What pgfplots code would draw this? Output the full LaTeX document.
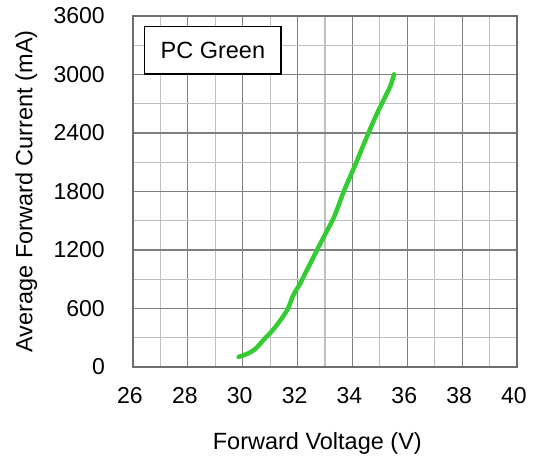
\documentclass[border=0pt]{standalone}
\usepackage{fontspec}
\setmainfont{Liberation Sans}
\usepackage{pgfplots}
\pgfplotsset{compat=1.18}

\definecolor{curvegreen}{HTML}{33CC33}
\definecolor{majorgrid}{HTML}{7F7F7F}
\definecolor{minorgrid}{HTML}{C0C0C0}
\definecolor{frame}{HTML}{6E6E6E}

% Forward voltage (V) vs average forward current (mA)
\pgfplotstableread{
V      I
29.85  103
30.20  140
30.47  188
30.80  290
31.09  376
31.40  490
31.65  598
31.84  735
32.09  855
32.46  1060
32.89  1299
33.33  1538
33.70  1812
34.07  2051
34.45  2310
34.83  2560
35.15  2745
35.38  2880
35.52  3002
}\ivcurve

\begin{document}
\begin{tikzpicture}
\begin{axis}[
  name=main,
  at={(0,0)}, anchor=south west,
  scale only axis,
  width=384pt, height=351pt,
  xmin=26, xmax=40, ymin=0, ymax=3600,
  xtick={26,28,...,40},
  ytick={0,600,...,3600},
  minor xtick={27,29,...,39},
  minor ytick={300,900,...,3300},
  grid=both,
  major grid style={draw=majorgrid, line width=1.1pt},
  minor grid style={draw=minorgrid, line width=1.1pt},
  major tick length=0pt, minor tick length=0pt,
  axis line style={draw=frame, line width=2pt},
  /pgf/number format/assume math mode=true,
  /pgf/number format/1000 sep={},
  tick label style={font=\fontsize{23}{27}\selectfont, inner sep=0pt},
  xticklabel style={anchor=base, yshift=-36pt, xshift=-3pt},
  yticklabel style={anchor=east, xshift=-28pt},
  xlabel={Forward Voltage (V)},
  ylabel={Average Forward Current (mA)},
  label style={font=\fontsize{23.5}{28}\selectfont, inner sep=0pt},
  xlabel style={at={(axis description cs:0.48,0)}, anchor=base, yshift=-82pt},
  ylabel style={at={(axis description cs:-0.307,0.5)}, anchor=north},
]
\addplot[curvegreen, line width=4.5pt, line cap=round, line join=round, smooth, tension=0.4]
  table[x=V, y=I] {\ivcurve};
\node[draw=black, line width=1.3pt, fill=white, anchor=south west,
      minimum width=136.5pt, minimum height=47.5pt, inner sep=0pt,
      font=\fontsize{23.5}{28}\selectfont]
  at (axis cs:26.4,3000) {PC Green};
\end{axis}
\path (-133pt,-92pt) rectangle (403pt,367pt);
\end{tikzpicture}
\end{document}
